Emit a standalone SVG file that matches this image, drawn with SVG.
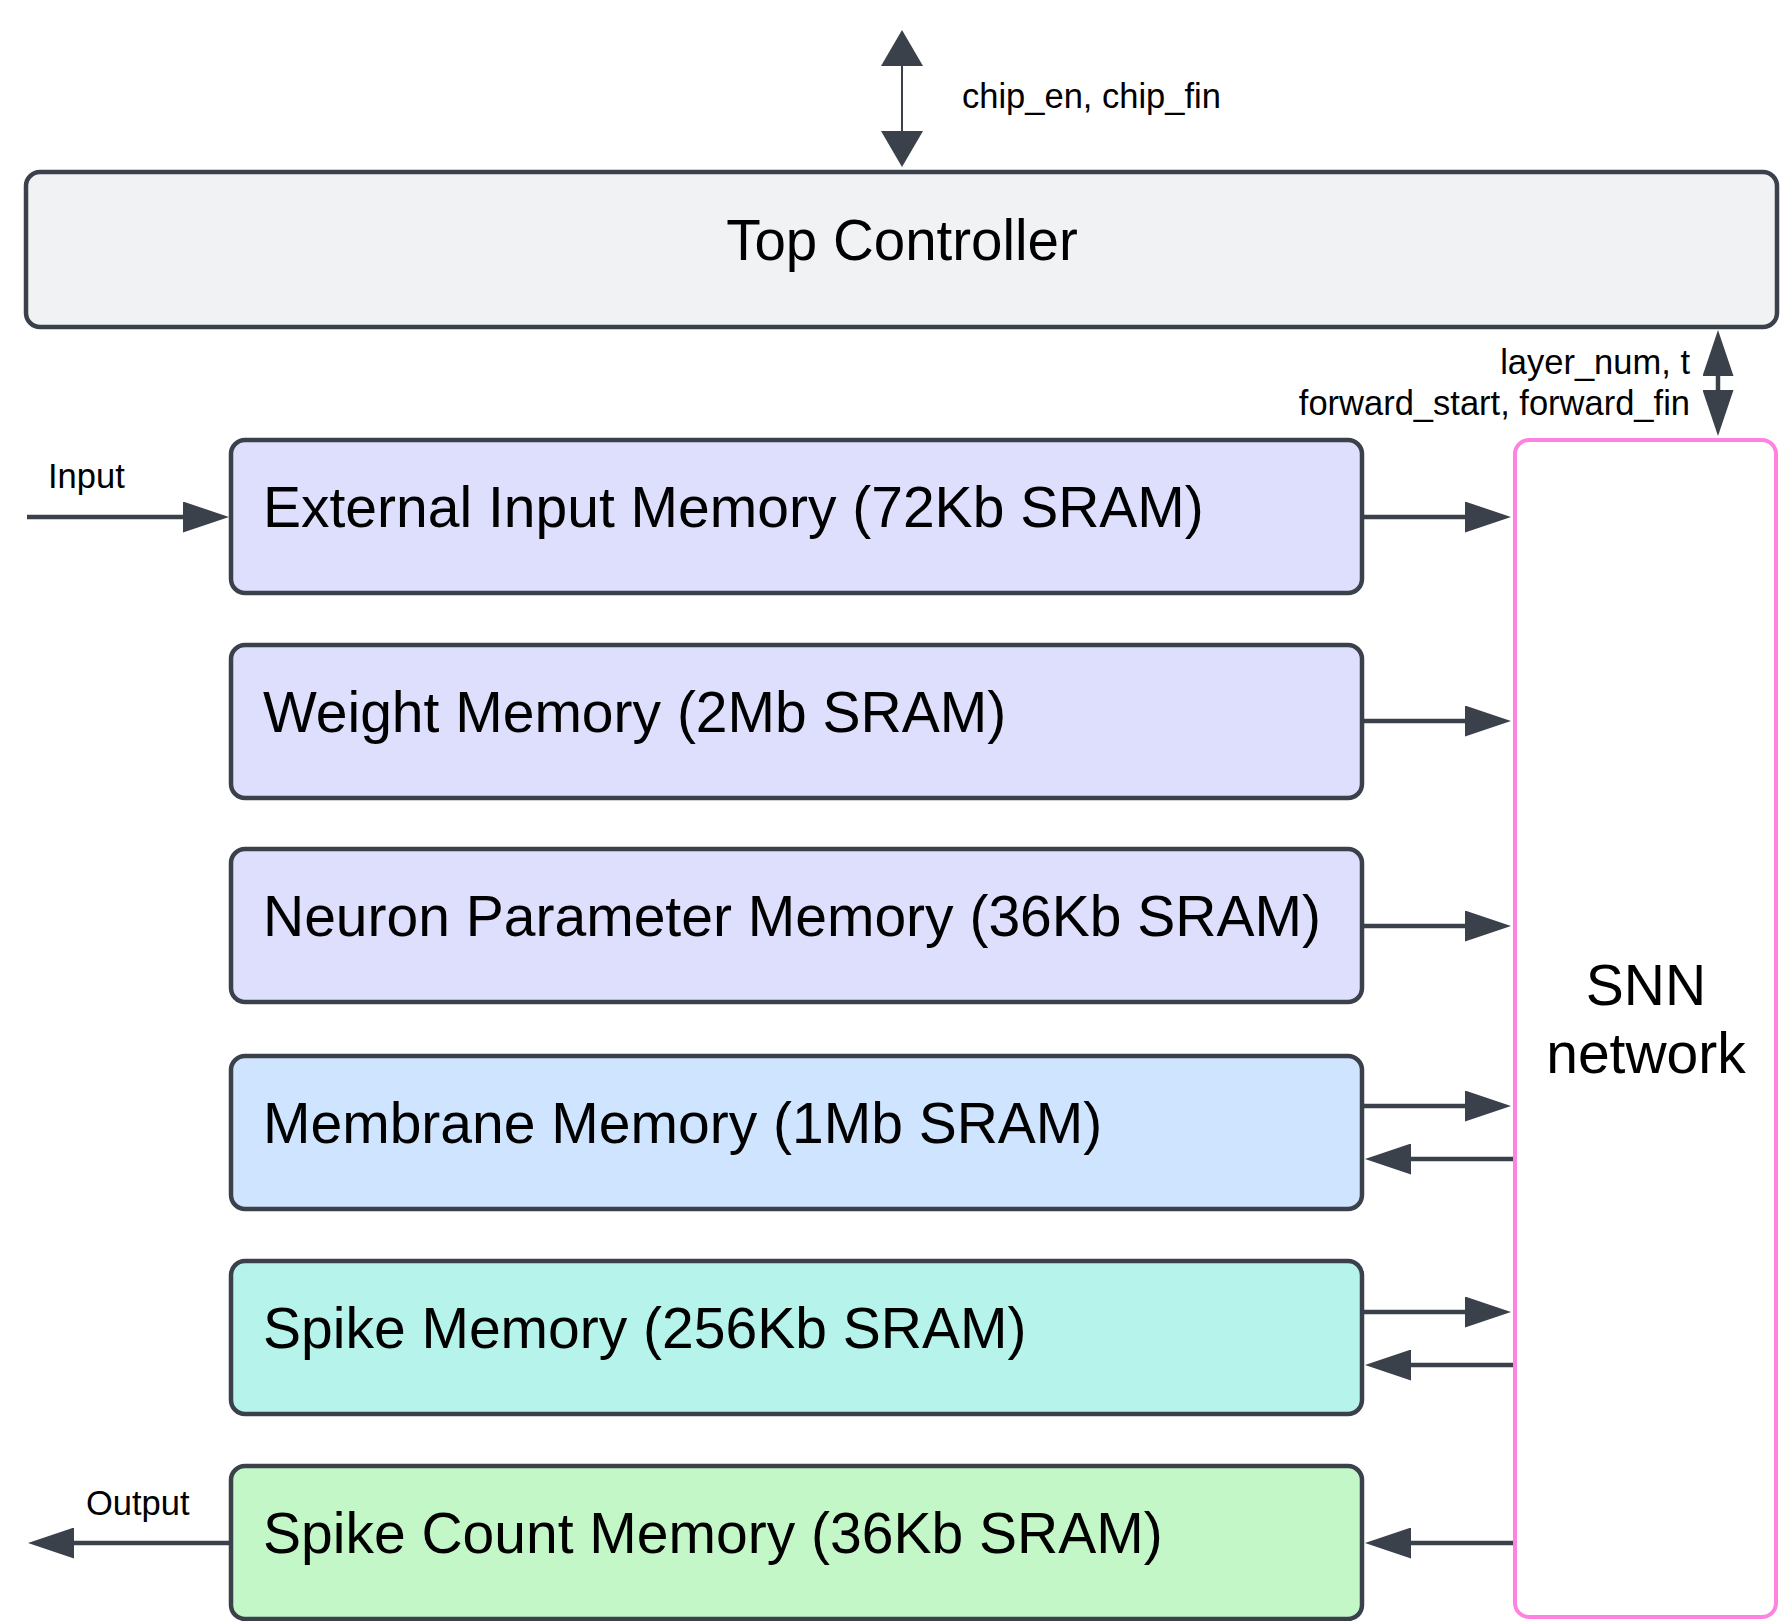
<svg xmlns="http://www.w3.org/2000/svg" width="1781" height="1621" viewBox="0 0 1781 1621">
  <style>
    .box { stroke: #3a414a; stroke-width: 4.5; }
    .label { font-family: "Liberation Sans", Arial, sans-serif; fill: #000; }
    .big { font-size: 57px; }
    .small { font-size: 34.5px; }
    .wire { stroke: #3a414a; stroke-width: 4.5; fill: none; }
    .thin { stroke: #3a414a; stroke-width: 2; fill: none; }
  </style>
  <defs>
    <marker id="head" markerUnits="userSpaceOnUse" markerWidth="47" markerHeight="31" viewBox="0 0 46 31" refX="1" refY="15.5" orient="auto-start-reverse">
      <path d="M0,0 L46,15.5 L0,31 z" fill="#3a414a"/>
    </marker>
    <marker id="headWide" markerUnits="userSpaceOnUse" markerWidth="37" markerHeight="42" viewBox="0 0 36 42" refX="1" refY="21" orient="auto-start-reverse">
      <path d="M0,0 L36,21 L0,42 z" fill="#3a414a"/>
    </marker>
  </defs>

  <rect width="1781" height="1621" fill="#ffffff"/>

  <!-- connectors and their labels -->
  <g id="connectors">
    <line class="thin" x1="902" y1="65" x2="902" y2="132" marker-start="url(#headWide)" marker-end="url(#headWide)"/>
    <line class="wire" x1="1718" y1="375" x2="1718" y2="391" marker-start="url(#head)" marker-end="url(#head)"/>
    <line class="wire" x1="27" y1="517" x2="184" y2="517" marker-end="url(#head)"/>
    <line class="wire" x1="1362" y1="517" x2="1466" y2="517" marker-end="url(#head)"/>
    <line class="wire" x1="1362" y1="721" x2="1466" y2="721" marker-end="url(#head)"/>
    <line class="wire" x1="1362" y1="926" x2="1466" y2="926" marker-end="url(#head)"/>
    <line class="wire" x1="1362" y1="1106" x2="1466" y2="1106" marker-end="url(#head)"/>
    <line class="wire" x1="1514" y1="1159" x2="1410" y2="1159" marker-end="url(#head)"/>
    <line class="wire" x1="1362" y1="1312" x2="1466" y2="1312" marker-end="url(#head)"/>
    <line class="wire" x1="1514" y1="1365" x2="1410" y2="1365" marker-end="url(#head)"/>
    <line class="wire" x1="1514" y1="1543" x2="1410" y2="1543" marker-end="url(#head)"/>
    <line class="wire" x1="230" y1="1543" x2="73" y2="1543" marker-end="url(#head)"/>
    <text class="label small" x="962" y="108">chip_en, chip_fin</text>
    <text class="label small" x="1690" y="374" text-anchor="end">layer_num, t</text>
    <text class="label small" x="1690" y="415" text-anchor="end">forward_start, forward_fin</text>
    <text class="label small" x="48" y="488">Input</text>
    <text class="label small" x="86" y="1515">Output</text>
  </g>

  <g id="top-controller">
    <rect class="box" x="26" y="172" width="1751" height="155" rx="14" fill="#f1f2f4"/>
    <text class="label" font-size="56.5" x="902" y="260" text-anchor="middle">Top Controller</text>
  </g>

  <g id="external-input-memory">
    <rect class="box" x="231" y="440" width="1131" height="153" rx="14" fill="#dedffd"/>
    <text class="label big" x="263" y="527">External Input Memory (72Kb SRAM)</text>
  </g>

  <g id="weight-memory">
    <rect class="box" x="231" y="645" width="1131" height="153" rx="14" fill="#dedffd"/>
    <text class="label big" x="263" y="732">Weight Memory (2Mb SRAM)</text>
  </g>

  <g id="neuron-parameter-memory">
    <rect class="box" x="231" y="849" width="1131" height="153" rx="14" fill="#dedffd"/>
    <text class="label big" x="263" y="936">Neuron Parameter Memory (36Kb SRAM)</text>
  </g>

  <g id="membrane-memory">
    <rect class="box" x="231" y="1056" width="1131" height="153" rx="14" fill="#cfe4ff"/>
    <text class="label big" x="263" y="1143">Membrane Memory (1Mb SRAM)</text>
  </g>

  <g id="spike-memory">
    <rect class="box" x="231" y="1261" width="1131" height="153" rx="14" fill="#b5f3eb"/>
    <text class="label big" x="263" y="1348">Spike Memory (256Kb SRAM)</text>
  </g>

  <g id="spike-count-memory">
    <rect class="box" x="231" y="1466" width="1131" height="153" rx="14" fill="#c3f7c8"/>
    <text class="label big" x="263" y="1553">Spike Count Memory (36Kb SRAM)</text>
  </g>

  <g id="snn-network">
    <rect x="1515" y="440" width="261" height="1177" rx="14" fill="#ffffff" stroke="#ff82e0" stroke-width="4"/>
    <text class="label big" x="1646" y="1005" text-anchor="middle">SNN</text>
    <text class="label big" x="1646" y="1073" text-anchor="middle">network</text>
  </g>
</svg>
